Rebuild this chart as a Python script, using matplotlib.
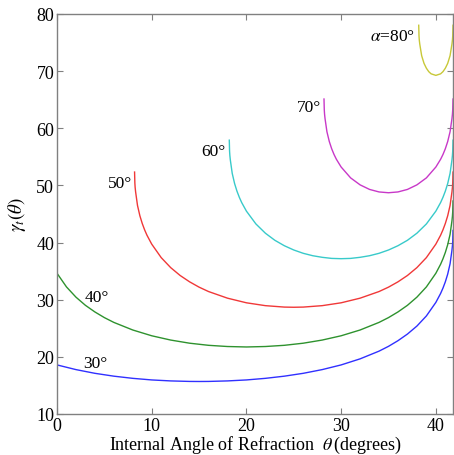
import numpy as np
import matplotlib
matplotlib.use("Agg")
import matplotlib.pyplot as plt

# -------------------------------
# data: gamma_t vs internal angle theta, one curve per apex angle
# -------------------------------
theta_30 = [0, 2, 4, 6, 8, 10, 12, 14, 15, 16, 18, 20, 22, 24, 26, 28, 30, 32, 34, 35,
            36, 37, 38, 39, 40, 40.5, 40.75, 41, 41.25, 41.5, 41.7, 41.75, 41.78, 41.81]
gamma_30 = [18.59, 17.77, 17.12, 16.62, 16.24, 15.96, 15.79, 15.70, 15.69, 15.70, 15.79,
            15.96, 16.24, 16.62, 17.12, 17.77, 18.59, 19.65, 21.00, 21.84, 22.83, 23.99,
            25.39, 27.16, 29.53, 31.09, 32.03, 33.13, 34.48, 36.28, 38.66, 39.44, 40.21, 42.12]

theta_40 = [0, 1, 2, 3, 4, 5, 6, 8, 10, 12, 14, 16, 18, 20, 22, 24, 26, 28, 30, 32, 34, 35,
            36, 37, 38, 39, 40, 40.5, 40.75, 41, 41.25, 41.5, 41.7, 41.75, 41.78, 41.81]
gamma_40 = [34.63, 32.24, 30.45, 29.02, 27.86, 26.87, 26.03, 24.70, 23.69, 22.94, 22.39,
            22.02, 21.81, 21.73, 21.81, 22.02, 22.39, 22.94, 23.69, 24.70, 26.03, 26.87,
            27.86, 29.02, 30.45, 32.24, 34.63, 36.20, 37.16, 38.27, 39.63, 41.43, 43.81,
            44.60, 45.37, 47.28]

theta_50 = [8.19, 8.22, 8.25, 8.3, 8.5, 8.75, 9, 9.25, 9.5, 10, 11, 12, 13, 14, 15, 16, 18,
            20, 22, 24, 25, 26, 28, 30, 32, 34, 35, 36, 37, 38, 39, 40, 40.5, 40.75, 41,
            41.25, 41.5, 41.7, 41.75, 41.78, 41.81]
gamma_50 = [52.34, 50.42, 49.66, 48.87, 46.49, 44.69, 43.34, 42.23, 41.28, 39.73, 37.37,
            35.62, 34.24, 33.13, 32.20, 31.43, 30.27, 29.46, 28.96, 28.71, 28.68, 28.71,
            28.96, 29.46, 30.27, 31.43, 32.20, 33.13, 34.24, 35.62, 37.37, 39.73, 41.28,
            42.23, 43.34, 44.69, 46.49, 48.87, 49.66, 50.42, 52.34]

theta_60 = [18.19, 18.22, 18.25, 18.3, 18.5, 18.75, 19, 19.25, 19.5, 20, 21, 22, 23, 24, 25,
            26, 27, 28, 29, 30, 31, 32, 33, 34, 35, 36, 37, 38, 39, 40, 40.5, 40.75, 41,
            41.25, 41.5, 41.7, 41.75, 41.78, 41.81]
gamma_60 = [57.92, 56.01, 55.25, 54.46, 52.11, 50.33, 49.00, 47.92, 47.00, 45.50, 43.26,
            41.64, 40.40, 39.45, 38.70, 38.12, 37.70, 37.42, 37.23, 37.18, 37.23, 37.42,
            37.70, 38.12, 38.70, 39.45, 40.40, 41.64, 43.26, 45.50, 47.00, 47.92, 49.00,
            50.33, 52.11, 54.46, 55.25, 56.01, 57.92]

theta_70 = [28.19, 28.22, 28.25, 28.3, 28.5, 28.75, 29, 29.25, 29.5, 30, 31, 32, 33, 34, 35,
            36, 37, 38, 39, 40, 40.5, 40.75, 41, 41.25, 41.5, 41.7, 41.75, 41.78, 41.81]
gamma_70 = [65.12, 63.22, 62.46, 61.69, 59.39, 57.68, 56.42, 55.41, 54.57, 53.22, 51.32,
            50.10, 49.30, 48.86, 48.72, 48.86, 49.30, 50.10, 51.32, 53.22, 54.57, 55.41,
            56.42, 57.68, 59.39, 61.69, 62.46, 63.22, 65.12]

theta_80 = [38.19, 38.22, 38.25, 38.3, 38.5, 38.75, 39, 39.25, 39.5, 40, 40.5, 40.75, 41,
            41.25, 41.5, 41.7, 41.75, 41.78, 41.81]
gamma_80 = [78.03, 76.17, 75.45, 74.75, 72.71, 71.36, 70.51, 69.91, 69.53, 69.26, 69.53,
            69.91, 70.51, 71.36, 72.71, 74.75, 75.45, 76.17, 78.03]

curve_labels = [r"30°", r"40°", r"50°", r"60°", r"70°", r"$\alpha$=80°"]
label_x = [2.8, 2.9, 7.9, 17.8, 27.9, 37.8]
label_y = [19.0, 30.5, 50.4, 56.1, 63.7, 76.2]
label_ha = ["left", "left", "right", "right", "right", "right"]

x_ticks = [0, 10, 20, 30, 40]
y_ticks = [10, 20, 30, 40, 50, 60, 70, 80]

# -------------------------------
# styling
# -------------------------------
plt.rcParams['font.family'] = ['Liberation Serif', 'DejaVu Serif']
plt.rcParams['mathtext.fontset'] = 'stix'

colors = ['#3030ff', '#2e922e', '#f03838', '#38caca', '#c838c8', '#c8c838']
curves = [(theta_30, gamma_30), (theta_40, gamma_40), (theta_50, gamma_50),
          (theta_60, gamma_60), (theta_70, gamma_70), (theta_80, gamma_80)]

fig = plt.figure(figsize=(4.54, 4.56), dpi=100)
ax = fig.add_axes([57 / 454, 41 / 456, 396 / 454, 400 / 456])

for (th, g), c in zip(curves, colors):
    ax.plot(th, g, color=c, lw=1.0)

for txt, x, y, ha in zip(curve_labels, label_x, label_y, label_ha):
    ax.text(x, y, txt, ha=ha, va='center', fontsize=12.5)

ax.set_xlim(0, 41.81)
ax.set_ylim(10, 80)
ax.set_xticks(x_ticks)
ax.set_yticks(y_ticks)
ax.tick_params(direction='in', length=4, top=True, right=True, labelsize=13,
               color='#808080', width=0.8, pad=2)
for s in ax.spines.values():
    s.set_color('#808080')
    s.set_linewidth(1.0)

ax.set_xlabel(r"Internal Angle of Refraction  $\theta\,$(degrees)", fontsize=13, labelpad=0)
ax.set_ylabel(r"$\gamma_t(\theta)$", fontsize=13.5, labelpad=6)

fig.savefig("out.png", dpi=100)
